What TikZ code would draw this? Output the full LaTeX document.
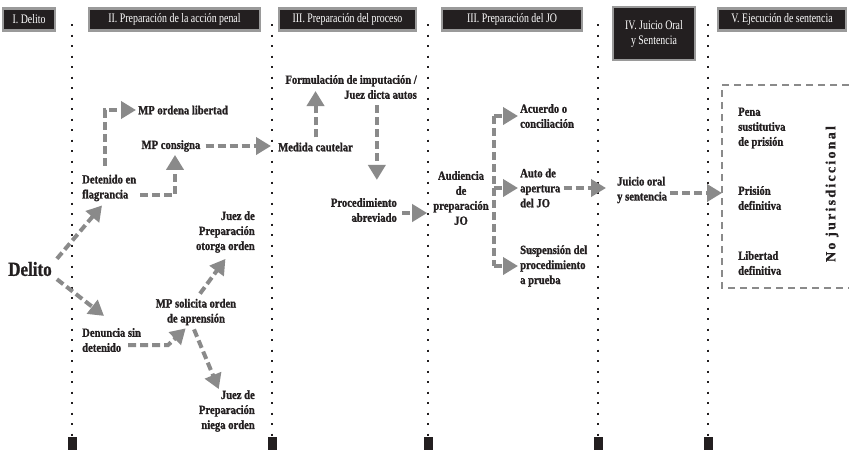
\documentclass[tikz,border=0pt]{standalone}
\usepackage{fontspec}
\setmainfont{Liberation Serif}
\newfontfamily\labfont[FakeStretch=0.85,FakeBold=1.2]{Liberation Serif}
\newfontfamily\hdrfont[FakeStretch=0.76]{Liberation Serif}
\newfontfamily\nofont[LetterSpace=16,FakeBold=0.8]{Liberation Serif}
\usetikzlibrary{arrows.meta,calc}
\definecolor{ink}{HTML}{231F20}
\definecolor{arrgray}{HTML}{8A8A8A}
\definecolor{hdrborder}{HTML}{9A9A9A}
\begin{document}
\begin{tikzpicture}[x=1pt,y=-1pt,
 hdr/.style={draw=hdrborder, line width=2.5pt, fill=ink, text=white, font=\hdrfont\fontsize{13}{15}\selectfont, inner sep=0pt, align=center},
 lab/.style={text=ink, font=\labfont\bfseries\fontsize{12.5}{15}\selectfont, inner sep=0pt},
 arr/.style={draw=arrgray, line width=4pt, dash pattern=on 8pt off 4pt, -{Triangle[length=15pt,width=17pt]}},
 dline/.style={draw=arrgray, line width=4pt, dash pattern=on 8pt off 4pt},
 boxd/.style={draw=arrgray, line width=2.5pt, dash pattern=on 7pt off 5pt},
 dots/.style={draw=ink, line width=2pt, dash pattern=on 2pt off 8.5pt},
 foot/.style={fill=ink, minimum width=9pt, minimum height=13pt, inner sep=0pt, anchor=south}
]
\useasboundingbox (0,0) rectangle (849,450);
\fill[white] (0,0) rectangle (849,450);

% headers
\node[hdr, minimum width=52pt, minimum height=22pt] (h1) at (29,19.5) {I. Delito};
\node[hdr, minimum width=171pt, minimum height=22pt] (h2) at (174.5,19.5) {II. Preparación de la acción penal};
\node[hdr, minimum width=137pt, minimum height=22pt] (h3) at (347.5,19.5) {III. Preparación del proceso};
\node[hdr, minimum width=140pt, minimum height=22pt] (h4) at (512,19.5) {III. Preparación del JO};
\node[hdr, minimum width=82pt, minimum height=53pt] (h5) at (654,33.5) {IV. Juicio Oral\\y Sentencia};
\node[hdr, minimum width=128pt, minimum height=22pt] (h6) at (782,19.5) {V. Ejecución de sentencia};

% dotted separators
\foreach \x [count=\i] in {72,272,428,598,708}{
  \node[foot] (foot\i) at (\x,450) {};
  \draw[dots] (\x,24) -- (foot\i.north);
}

% labels
\node[lab, font=\labfont\bfseries\fontsize{20}{22}\selectfont] (delito) at (30,269) {Delito};
\node[lab, anchor=west, align=left] (det) at (82,188) {Detenido en\\flagrancia};
\node[lab, anchor=west] (mplib) at (138,110) {MP ordena libertad};
\node[lab] (mpcon) at (171,146) {MP consigna};
\node[lab, anchor=east, align=right] (jotorga) at (255,232) {Juez de\\Preparación\\otorga orden};
\node[lab, align=center] (mpsol) at (196,312) {MP solicita orden\\de aprensión};
\node[lab, anchor=west, align=left] (den) at (82,340) {Denuncia sin\\detenido};
\node[lab, anchor=east, align=right] (jniega) at (255,411) {Juez de\\Preparación\\niega orden};
\node[lab, anchor=east, align=right] (form) at (417,87) {Formulación de imputación /\\Juez dicta autos};
\node[lab, anchor=west] (med) at (278,147) {Medida cautelar};
\node[lab, anchor=east, align=right] (proc) at (397,210) {Procedimiento\\abreviado};
\node[lab, align=center] (aud) at (461,198) {Audiencia\\de\\preparación\\JO};
\node[lab, anchor=west, align=left] (acu) at (520,116) {Acuerdo o\\conciliación};
\node[lab, anchor=west, align=left] (auto) at (520,188) {Auto de\\apertura\\del JO};
\node[lab, anchor=west, align=left] (susp) at (520,266) {Suspensión del\\procedimiento\\a prueba};
\node[lab, anchor=west, align=left] (juicio) at (617,190) {Juicio oral\\y sentencia};
\node[lab, anchor=west, align=left] (pena) at (738,128) {Pena\\sustitutiva\\de prisión};
\node[lab, anchor=west, align=left] (pris) at (738,198) {Prisión\\definitiva};
\node[lab, anchor=west, align=left] (lib) at (738,263) {Libertad\\definitiva};
\node[text=ink, font=\nofont\bfseries\fontsize{14}{16}\selectfont, rotate=90, inner sep=0pt] (nojur) at (832,194) {No jurisdiccional};

% dashed frame of stage V
\coordinate (boxin) at (722,85);
\draw[boxd] (849,85) -| (722,288) -- (849,288);

% arrows
\draw[arr] ([shift={(5,-3)}]delito.north east) -- ([shift={(20,4)}]det.south west);
\draw[arr] ([shift={(5,3)}]delito.south east) -- ([shift={(22,-12)}]den.north west);
\draw[arr] ([shift={(23,-9)}]det.north west) |- ([xshift=-2pt]mplib.west);
\draw[arr] ([shift={(4,7)}]det.east) -| ([shift={(4,3)}]mpcon.south);
\draw[arr] ([xshift=5pt]mpcon.east) -- ([xshift=-7pt]mpcon.east -| med.west);
\draw[arr] ([yshift=5pt]med.north) -- ([yshift=-4pt]med.north |- form.center);
\draw[arr] ([shift={(13,6)}]proc.north |- form.south) -- ([shift={(13,-18)}]proc.north);
\draw[arr] ([shift={(5,3)}]proc.east) -- ([shift={(-6,3)}]proc.east -| aud.west);
\draw[dline] ([xshift=5pt]aud.east |- acu.west) -- ([xshift=5pt]aud.east |- susp.west);
\draw[arr] ([xshift=5pt]aud.east |- acu.west) -- ([xshift=-2pt]acu.west);
\draw[arr] ([xshift=5pt]aud.east |- auto.west) -- ([xshift=-2pt]auto.west);
\draw[arr] ([xshift=5pt]aud.east |- susp.west) -- ([xshift=-2pt]susp.west);
\draw[arr] ([xshift=3pt]auto.east) -- ([xshift=-11pt]auto.east -| juicio.west);
\draw[arr] ([shift={(3,3)}]juicio.east) -- ([shift={(0,3)}]juicio.east -| boxin);
\draw[arr] ([shift={(4,-5)}]mpsol.north) -- ([shift={(0,6)}]jotorga.south);
\draw[arr] ([shift={(46,-7)}]den.south west) -- ++(40,0) -- ([shift={(30,3)}]mpsol.south west);
\draw[arr] ([shift={(-2,4)}]mpsol.south) -- ([shift={(20,-1)}]jniega.north west);
\end{tikzpicture}
\end{document}
